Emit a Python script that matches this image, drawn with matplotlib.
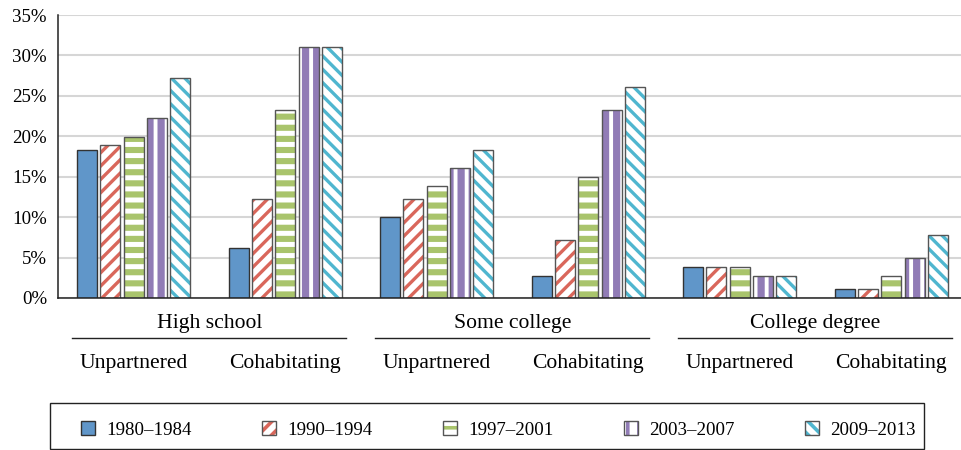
import matplotlib
matplotlib.use("Agg")
import matplotlib.pyplot as plt
import matplotlib.transforms as mtransforms
from matplotlib.patches import Patch, Rectangle
from matplotlib.legend_handler import HandlerTuple
import numpy as np

periods = ["1980\u20131984", "1990\u20131994", "1997\u20132001", "2003\u20132007", "2009\u20132013"]
education = ["High school", "Some college", "College degree"]
status = ["Unpartnered", "Cohabitating"]

# columns = HS-unp, HS-coh, SC-unp, SC-coh, CD-unp, CD-coh  (percent)
p1980 = [18.3, 6.2, 10.0, 2.7, 3.8, 1.1]
p1990 = [18.9, 12.2, 12.2, 7.2, 3.8, 1.1]
p1997 = [19.9, 23.3, 13.9, 15.0, 3.8, 2.7]
p2003 = [22.2, 31.1, 16.1, 23.3, 2.7, 5.0]
p2009 = [27.2, 31.1, 18.3, 26.1, 2.7, 7.8]
values = [p1980, p1990, p1997, p2003, p2009]

colors = ["#6096c9", "#d9675b", "#a9c46c", "#917cb6", "#4fb6cf"]
hatches = [None, "/////", "---", "|||", "\\\\\\\\\\"]
hatch_lw = [0, 1.2, 2.2, 2.6, 1.2]
edge = "#333333"

plt.rcParams["font.family"] = ["Liberation Serif", "DejaVu Serif"]
plt.rcParams["hatch.linewidth"] = 1.3
fs = 6.8
fs_cat = 7.8


def hatch_width(artist, lw):
    if hasattr(artist, "set_hatch_linewidth"):
        artist.set_hatch_linewidth(lw)
    orig = artist.draw

    def draw(renderer, *args, **kwargs):
        with plt.rc_context({"hatch.linewidth": lw}):
            return orig(renderer, *args, **kwargs)
    artist.draw = draw


fig = plt.figure(figsize=(4.805, 2.25), dpi=200)
ax = fig.add_axes([58 / 961, 1 - 298 / 450, 1 - 58 / 961, 283 / 450])

x = np.arange(6)
width = 0.132
step = 0.154
handles = []
for i, (vals, col, h, hl) in enumerate(zip(values, colors, hatches, hatch_lw)):
    pos = x + (i - 2) * step
    if h is None:
        ax.bar(pos, vals, width, color=col, edgecolor=edge, linewidth=0.5, zorder=3)
        handles.append(Patch(facecolor=col, edgecolor=edge, linewidth=0.5))
    else:
        with plt.rc_context({"hatch.linewidth": hl}):
            hb = ax.bar(pos, vals, width, facecolor="white", edgecolor=col, linewidth=0,
                        hatch=h, zorder=3)
        for r in hb:
            hatch_width(r, hl)
        ax.bar(pos, vals, width, facecolor="none", edgecolor="#555555", linewidth=0.5, zorder=4)
        ph = Patch(facecolor="white", edgecolor=col, linewidth=0, hatch=h)
        handles.append((ph, Patch(facecolor="none", edgecolor="#555555", linewidth=0.5)))

ax.set_xlim(-0.5, 5.46)
ax.set_ylim(0, 35)
ax.set_yticks(np.arange(0, 36, 5))
ax.set_yticklabels([f"{v}%" for v in range(0, 36, 5)], fontsize=fs)
ax.set_xticks([])
ax.tick_params(axis="y", length=0, pad=4)
ax.yaxis.grid(True, color="#d6d6d6", linewidth=0.75, zorder=0)
ax.set_axisbelow(True)
for s in ["top", "right"]:
    ax.spines[s].set_visible(False)
for s in ["left", "bottom"]:
    ax.spines[s].set_linewidth(0.55)
    ax.spines[s].set_color("#222222")
    ax.spines[s].set_zorder(5)

trans = mtransforms.blended_transform_factory(ax.transData, ax.transAxes)
for k, name in enumerate(education):
    ax.text(2 * k + 0.5, -0.09, name, transform=trans, ha="center", va="center", fontsize=fs_cat)
    ax.plot([2 * k - 0.41, 2 * k + 1.40], [-0.141, -0.141], transform=trans,
            color="#222222", linewidth=0.5, clip_on=False)
    for j, st in enumerate(status):
        ax.text(2 * k + j, -0.23, st, transform=trans, ha="center", va="center", fontsize=fs_cat)

leg = fig.legend(handles, periods, loc="center left", ncol=5,
                 bbox_to_anchor=(81 / 961, 1 - 430 / 450), frameon=False,
                 fontsize=fs, borderaxespad=0, borderpad=0,
                 handlelength=0.72, handleheight=0.72, handletextpad=0.6,
                 columnspacing=3.75, handler_map={tuple: HandlerTuple(ndivide=1)})
fig.patches.append(Rectangle((50 / 961, 1 - 449 / 450), 874 / 961, 46 / 450,
                             transform=fig.transFigure, facecolor="none",
                             edgecolor="#222222", linewidth=0.5))

fig.savefig("out.png", dpi=200)
